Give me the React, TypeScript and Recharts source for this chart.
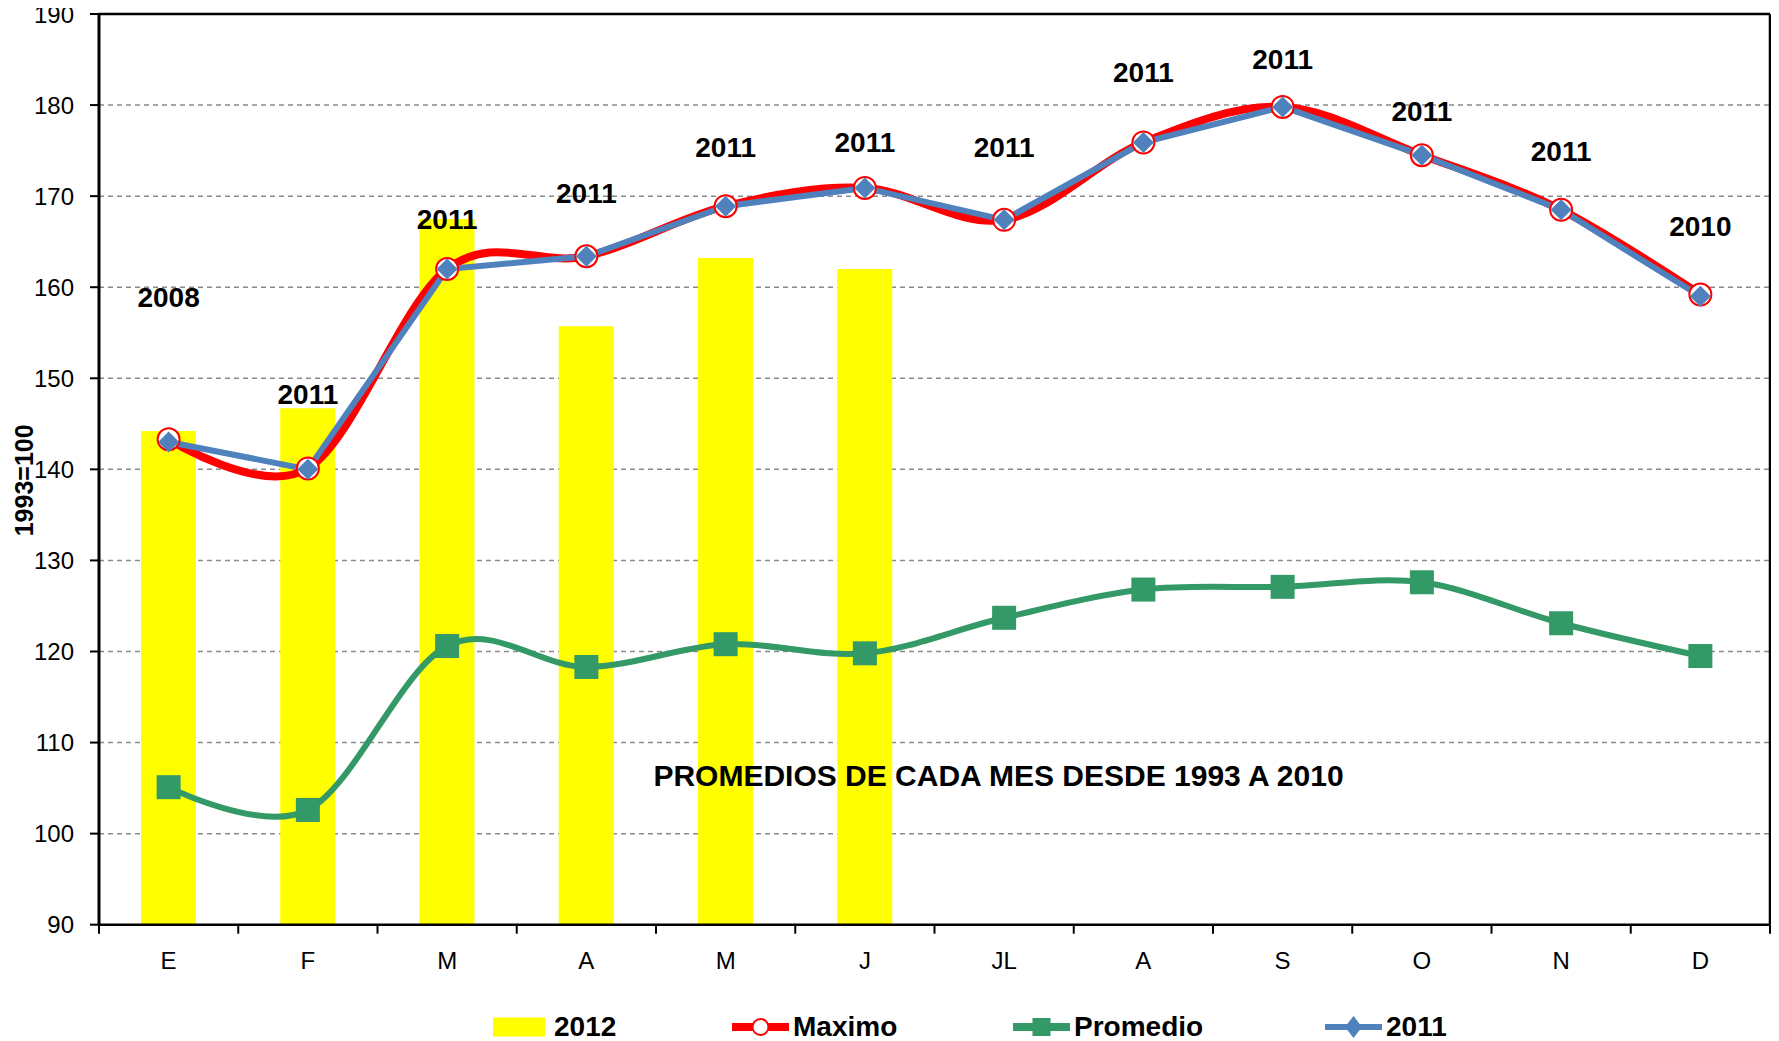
import React from 'react';
import {
  ComposedChart, Bar, Line, XAxis, YAxis, CartesianGrid, Legend, LabelList, ReferenceLine, Label,
} from 'recharts';

// ---------- data ----------
const months = ['E', 'F', 'M', 'A', 'M', 'J', 'JL', 'A', 'S', 'O', 'N', 'D'];
const serie2012: (number | null)[] = [144.2, 146.7, 167.5, 155.7, 163.2, 162.0, null, null, null, null, null, null];
const maximo = [143.3, 140.1, 162.0, 163.4, 168.9, 170.9, 167.4, 175.9, 179.8, 174.5, 168.5, 159.2];
const promedio = [105.1, 102.6, 120.6, 118.3, 120.8, 119.8, 123.7, 126.8, 127.1, 127.6, 123.1, 119.5];
const serie2011 = [143.0, 140.0, 162.0, 163.4, 168.9, 170.9, 167.4, 175.9, 179.8, 174.5, 168.5, 159.0];
const maxYears = ['2008', '2011', '2011', '2011', '2011', '2011', '2011', '2011', '2011', '2011', '2011', '2010'];
const yearLabelLevel = [158.9, 148.3, 167.5, 170.3, 175.4, 175.9, 175.4, 183.6, 185.1, 179.3, 174.9, 166.7];
const yTicks = [90, 100, 110, 120, 130, 140, 150, 160, 170, 180, 190];
const noteText = 'PROMEDIOS DE CADA MES DESDE 1993 A 2010';
const noteLevel = 106.4;
const yAxisTitle = '1993=100';
const seriesNames = { s2012: '2012', maximo: 'Maximo', promedio: 'Promedio', s2011: '2011' };

const data = months.map((m, i) => ({
  mes: m,
  s2012: serie2012[i],
  maximo: maximo[i],
  promedio: promedio[i],
  s2011: serie2011[i],
  yr: maxYears[i],
  yrPos: yearLabelLevel[i],
}));

// ---------- styling ----------
const FONT = '"Liberation Sans", Arial, Helvetica, sans-serif';
const W = 1779;
const H = 1041;
const PLOT_LEFT = 99;
const PLOT_RIGHT_MARGIN = 8;
const PLOT_W = W - PLOT_LEFT - PLOT_RIGHT_MARGIN - 1;
const LEGEND_H = 28;
const YELLOW = '#FFFF00';
const RED = '#FF0000';
const GREEN = '#339966';
const BLUE = '#4F81BD';

// Catmull-Rom style (cardinal, tension 0) curve similar to Excel smoothing
function cardinalCurve(context: any) {
  const k = 1 / 6;
  let x0 = NaN, y0 = NaN, x1 = NaN, y1 = NaN, x2 = NaN, y2 = NaN;
  let pt = 0;
  let ln: number = NaN;
  const seg = (x: number, y: number) => {
    context.bezierCurveTo(
      x1 + k * (x2 - x0), y1 + k * (y2 - y0),
      x2 + k * (x1 - x), y2 + k * (y1 - y),
      x2, y2,
    );
  };
  return {
    areaStart() { ln = 0; },
    areaEnd() { ln = NaN; },
    lineStart() { x0 = x1 = x2 = y0 = y1 = y2 = NaN; pt = 0; },
    lineEnd() {
      if (pt === 2) context.lineTo(x2, y2);
      else if (pt === 3) seg(x1, y1);
      if (ln || (ln !== 0 && pt === 1)) context.closePath();
      ln = 1 - ln;
    },
    point(x: number, y: number) {
      x = +x; y = +y;
      if (pt === 0) {
        pt = 1;
        if (ln) context.lineTo(x, y); else context.moveTo(x, y);
      } else if (pt === 1) {
        pt = 2; x1 = x; y1 = y;
      } else {
        pt = 3;
        seg(x, y);
      }
      x0 = x1; x1 = x2; x2 = x;
      y0 = y1; y1 = y2; y2 = y;
    },
  };
}

const CircleDot = (p: any) => {
  if (p.cx == null || p.cy == null) return <g key={p.index} />;
  return <circle key={p.index} cx={p.cx} cy={p.cy} r={11} fill="#fff" stroke={RED} strokeWidth={2} />;
};
const SquareDot = (p: any) => {
  if (p.cx == null || p.cy == null) return <g key={p.index} />;
  return <rect key={p.index} x={p.cx - 12} y={p.cy - 12} width={24} height={24} fill={GREEN} />;
};
const DiamondDot = (p: any) => {
  if (p.cx == null || p.cy == null) return <g key={p.index} />;
  const r = 10.5;
  return (
    <polygon key={p.index}
      points={`${p.cx},${p.cy - r} ${p.cx + r},${p.cy} ${p.cx},${p.cy + r} ${p.cx - r},${p.cy}`}
      fill={BLUE} />
  );
};

const XTick = (props: any) => {
  const { x, y, index } = props;
  const band = PLOT_W / months.length;
  return (
    <g>
      <line x1={x - band / 2} x2={x - band / 2} y1={y} y2={y + 9} stroke="#000" strokeWidth={2} />
      {index === months.length - 1 && (
        <line x1={x + band / 2} x2={x + band / 2} y1={y} y2={y + 9} stroke="#000" strokeWidth={2} />
      )}
      <text x={x} y={y + 44} textAnchor="middle" fontSize={24} fill="#000" fontFamily={FONT}>
        {months[index]}
      </text>
    </g>
  );
};

const LegendContent = () => {
  const item = (left: number, icon: React.ReactNode, text: string) => (
    <div key={text} style={{ position: 'absolute', left, top: 0, height: LEGEND_H, display: 'flex', alignItems: 'center' }}>
      <svg width={57} height={LEGEND_H} style={{ display: 'block' }}>{icon}</svg>
      <span style={{ marginLeft: 4, fontSize: 28, fontWeight: 'bold', fontFamily: FONT, color: '#000', lineHeight: `${LEGEND_H}px` }}>{text}</span>
    </div>
  );
  const c = LEGEND_H / 2;
  return (
    <div style={{ position: 'relative', width: W, height: LEGEND_H }}>
      {item(493, <rect x={0} y={c - 9.5} width={52} height={19} fill={YELLOW} />, seriesNames.s2012)}
      {item(732, <g>
        <line x1={0} x2={57} y1={c} y2={c} stroke={RED} strokeWidth={8} strokeLinecap="round" />
        <circle cx={28.5} cy={c} r={8} fill="#fff" stroke={RED} strokeWidth={2} />
      </g>, seriesNames.maximo)}
      {item(1013, <g>
        <line x1={0} x2={57} y1={c} y2={c} stroke={GREEN} strokeWidth={8} strokeLinecap="round" />
        <rect x={19.5} y={c - 9} width={18} height={18} fill={GREEN} />
      </g>, seriesNames.promedio)}
      {item(1325, <g>
        <line x1={0} x2={57} y1={c} y2={c} stroke={BLUE} strokeWidth={6} strokeLinecap="round" />
        <polygon points={`28.5,${c - 11} 37,${c} 28.5,${c + 11} 20,${c}`} fill={BLUE} />
      </g>, seriesNames.s2011)}
    </div>
  );
};

export default function App() {
  return (
    <div style={{ width: W, height: H, fontFamily: FONT, margin: '-8px 0 0 -8px' }}>
      <ComposedChart
        width={W}
        height={H}
        data={data}
        margin={{ top: 14, right: PLOT_RIGHT_MARGIN, left: 0, bottom: 0 }}
        barCategoryGap={0}
        style={{ fontFamily: FONT }}
      >
        <CartesianGrid vertical={false} stroke="#8a8a8a" strokeDasharray="5 4" strokeWidth={1.5} />
        <XAxis
          dataKey="mes"
          interval={0}
          height={H - 14 - 910.7 - LEGEND_H}
          tickSize={0}
          tickMargin={0}
          tickLine={false}
          axisLine={{ stroke: '#000', strokeWidth: 2.5 }}
          tick={<XTick />}
        />
        <YAxis
          domain={[90, 190]}
          ticks={yTicks}
          width={PLOT_LEFT}
          tickSize={9}
          tickMargin={16}
          interval={0}
          axisLine={{ stroke: '#000', strokeWidth: 3 }}
          tickLine={{ stroke: '#000', strokeWidth: 2 }}
          tick={{ fontSize: 24, fill: '#000', fontFamily: FONT }}
        >
          <Label
            content={(p: any) => {
              const vb = p.viewBox || { x: 0, y: 14, width: 99, height: 910 };
              const cx = vb.x + 24;
              const cy = vb.y + vb.height / 2 + 11;
              return (
                <text x={cx} y={cy} transform={`rotate(-90 ${cx} ${cy})`} textAnchor="middle"
                  dominantBaseline="central" fontSize={25} fontWeight="bold" fill="#000" fontFamily={FONT}>
                  {yAxisTitle}
                </text>
              );
            }}
          />
        </YAxis>
        <YAxis
          yAxisId="r"
          orientation="right"
          domain={[90, 190]}
          width={1}
          tick={false}
          tickLine={false}
          axisLine={{ stroke: '#000', strokeWidth: 2.5 }}
        />
        <ReferenceLine y={190} stroke="#000" strokeWidth={2.5} />
        <Bar dataKey="s2012" name={seriesNames.s2012} fill={YELLOW} barSize={55} isAnimationActive={false} />
        <Line
          dataKey="promedio"
          name={seriesNames.promedio}
          type={cardinalCurve as any}
          stroke={GREEN}
          strokeWidth={6}
          dot={SquareDot}
          activeDot={false}
          isAnimationActive={false}
        />
        <Line
          dataKey="maximo"
          name={seriesNames.maximo}
          type={cardinalCurve as any}
          stroke={RED}
          strokeWidth={8}
          dot={CircleDot}
          activeDot={false}
          isAnimationActive={false}
        />
        <Line
          dataKey="s2011"
          name={seriesNames.s2011}
          type="linear"
          stroke={BLUE}
          strokeWidth={6}
          dot={DiamondDot}
          activeDot={false}
          isAnimationActive={false}
        />
        <Line
          dataKey="yrPos"
          stroke="none"
          dot={false}
          activeDot={false}
          legendType="none"
          isAnimationActive={false}
        >
          <LabelList dataKey="yr" position="center" fontSize={28} fontWeight="bold" fill="#000" fontFamily={FONT} />
        </Line>
        <ReferenceLine
          y={noteLevel}
          stroke="none"
          label={{ value: noteText, position: 'center', dx: 64, fontSize: 30, fontWeight: 'bold', fill: '#000', fontFamily: FONT }}
        />
        <Legend verticalAlign="bottom" height={LEGEND_H} content={<LegendContent />} wrapperStyle={{ left: 0, bottom: 0 }} />
      </ComposedChart>
    </div>
  );
}
